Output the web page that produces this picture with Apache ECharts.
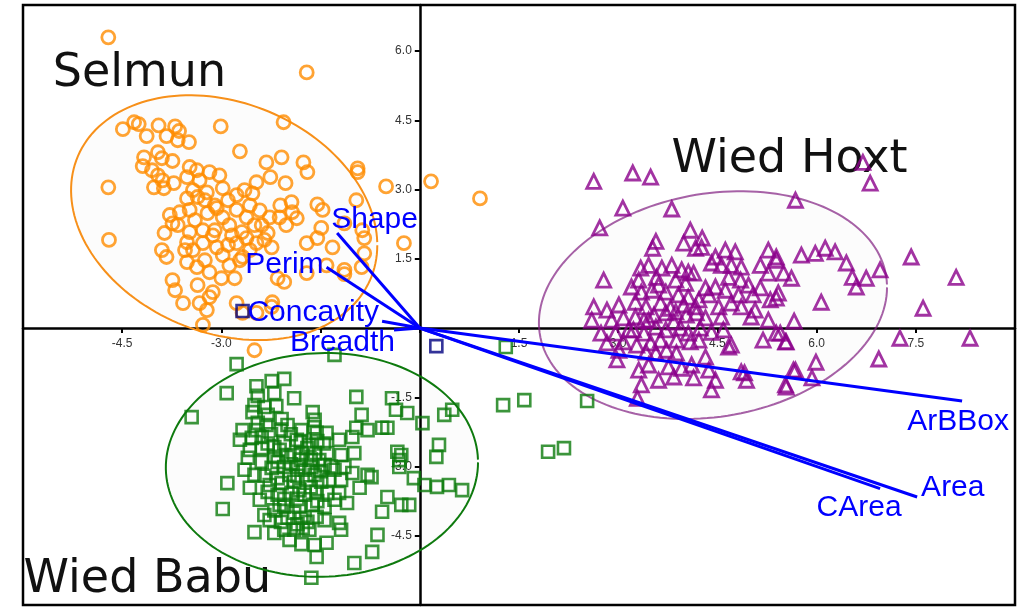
<!DOCTYPE html>
<html><head><meta charset="utf-8">
<script src="https://cdn.jsdelivr.net/npm/echarts@6/dist/echarts.min.js"></script>
<style>html,body{margin:0;padding:0;background:#fff}#c{width:1017px;height:607px}</style>
</head><body><div id="c"></div>
<script>
// ---- data (PC1, PC2 scores) ----
const selmun = [[-4.71,6.30],[-1.71,5.54],[-4.49,4.31],[-4.32,4.46],[-4.25,4.42],[-4.13,4.16],[-3.95,4.39],[-3.83,4.16],[-3.70,4.37],[-3.64,4.27],[-3.66,4.07],[-3.49,4.03],[-3.01,4.37],[-2.72,3.83],[-3.96,3.81],[-4.17,3.70],[-4.19,3.51],[-4.05,3.42],[-3.90,3.68],[-3.74,3.62],[-3.96,3.31],[-3.89,3.20],[-4.02,3.05],[-3.87,3.03],[-3.72,3.14],[-4.71,3.05],[-3.48,3.49],[-3.37,3.42],[-3.52,3.27],[-3.33,3.20],[-3.18,3.38],[-3.03,3.31],[-2.47,3.16],[-3.43,2.99],[-3.52,2.81],[-3.36,2.84],[-3.22,2.94],[-2.98,3.03],[-2.77,2.88],[-2.65,2.99],[-2.53,2.92],[-3.78,2.45],[-3.74,2.27],[-3.63,2.51],[-3.48,2.56],[-3.40,2.34],[-3.21,2.49],[-3.07,2.60],[-2.98,2.40],[-2.77,2.56],[-2.62,2.40],[-3.86,2.06],[-3.66,2.23],[-3.28,2.12],[-3.10,2.12],[-2.88,2.23],[-2.69,2.08],[-2.50,2.23],[-4.70,1.91],[-3.90,1.69],[-3.83,1.54],[-3.52,1.86],[-3.43,1.69],[-3.28,1.84],[-3.07,1.75],[-2.98,1.58],[-2.77,1.84],[-2.62,1.95],[-2.47,1.84],[-3.52,1.43],[-3.37,1.32],[-3.18,1.21],[-2.88,1.36],[-2.68,1.54],[-3.00,1.08],[-2.80,1.08],[-3.74,1.04],[-3.70,0.82],[-3.36,0.93],[-3.13,0.78],[-3.18,0.67],[-3.58,0.54],[-3.33,0.54],[-3.22,0.39],[-2.77,0.54],[-2.68,0.33],[-3.28,0.07],[-2.47,0.33],[-2.50,-0.48],
[-2.06,4.46],[-2.32,3.59],[-2.09,3.70],[-2.26,3.27],[-2.03,3.14],[-1.76,3.59],[-1.70,3.38],[-0.94,3.46],[-0.94,3.38],[-0.51,3.07],[0.17,3.18],[0.91,2.81],[-0.96,2.77],[-1.55,2.68],[-1.47,2.56],[-2.11,2.66],[-1.94,2.73],[-1.93,2.51],[-1.86,2.38],[-2.12,2.40],[-2.02,2.23],[-2.27,2.40],[-2.30,2.06],[-2.24,1.75],[-1.49,2.17],[-1.55,1.95],[-0.87,2.12],[-0.84,1.95],[-0.84,1.62],[-0.88,1.32],[-1.14,1.26],[-1.14,1.17],[-1.41,1.36],[-1.71,1.19],[-2.15,1.08],[-2.05,1.00],[-2.23,0.56],[-2.24,0.46],[-0.24,1.84],[-1.14,2.27],[-1.32,1.75],[-1.71,1.84],
[-3.25,2.77],[-3.10,2.66],[-2.90,2.77],[-2.84,2.01],[-2.57,2.66],[-2.42,2.55],[-2.39,2.23],[-2.57,1.69],[-3.25,1.47],[-3.55,1.69],[-2.35,1.91],[-2.72,1.47],[-2.90,1.80],[-3.13,2.01],[-3.48,2.08]];

const wiedHoxt = [[2.63,3.18],[3.22,3.36],[3.49,3.27],[3.07,2.60],[3.81,2.58],[2.72,2.17],[4.09,2.12],[3.99,1.84],[4.27,1.95],[3.57,1.88],[3.52,1.73],[4.17,1.73],[4.26,1.75],[2.78,1.04],[3.34,1.30],[3.46,1.36],[3.66,1.30],[3.81,1.36],[3.58,1.10],[3.96,1.26],[4.06,1.21],[4.14,1.19],[3.87,1.04],[4.02,0.97],[4.47,1.54],[4.62,1.69],[4.77,1.65],[4.41,1.41],[4.56,1.36],[4.71,1.36],[4.86,1.32],[5.15,1.36],[5.27,1.69],[4.67,1.10],[4.85,1.04],[5.27,1.19],[3.20,0.89],[3.35,0.78],[3.51,0.82],[3.72,0.78],[4.32,0.87],[4.47,0.89],[4.62,0.82],[4.97,0.93],[5.15,0.87],[3.91,0.72],[4.06,0.67],[2.63,0.46],[2.83,0.39],[3.01,0.50],[3.26,0.56],[3.42,0.46],[3.64,0.54],[3.79,0.43],[4.17,0.46],[4.52,0.46],[4.71,0.54],[4.86,0.46],[5.07,0.39],[5.30,0.61],[2.60,0.17],[2.90,0.17],[3.08,0.22],[3.26,0.24],[3.39,0.17],[3.54,0.28],[3.72,0.33],[3.87,0.35],[4.03,0.28],[4.18,0.33],[4.32,0.22],[4.56,0.24],[5.01,0.24],[2.74,-0.11],[2.96,-0.11],[3.23,-0.04],[3.39,-0.11],[3.57,0.02],[3.72,-0.04],[3.94,0.00],[4.06,-0.11],[4.24,0.00],[4.41,-0.09],[2.83,-0.32],[3.08,-0.30],[3.28,-0.37],[3.49,-0.32],[3.64,-0.26],[3.88,-0.26],[4.09,-0.30],[4.71,-0.37],[3.42,-0.52],[3.57,-0.54],[3.73,-0.48],[3.88,-0.54],[2.98,-0.69],[3.46,-0.80],[3.76,-0.84],[3.96,-0.87],[4.11,-0.80],[4.32,-0.63],[4.86,-0.95],[3.84,-1.06],[4.14,-1.08],[4.47,-1.13],[4.94,-1.13],[3.35,-1.23],[4.41,-1.34],[3.29,-1.52],[4.91,-0.97],[5.53,-1.23],[5.65,-0.91],[5.99,-0.74],[5.93,-1.08],[6.94,-0.67],[7.26,-0.22],[8.32,-0.22],[4.67,-0.41],[5.39,-0.11],[5.53,-0.30],[5.54,-1.28],[5.68,-0.91],
[6.81,3.14],[6.70,3.59],[5.68,2.77],[5.77,1.58],[5.98,1.62],[6.13,1.73],[6.28,1.65],[6.45,1.41],[6.96,1.26],[6.54,1.10],[6.75,1.08],[6.60,0.89],[7.43,1.54],[8.11,1.10],[6.07,0.56],[7.61,0.43],[5.66,0.15],[5.39,1.54],[5.39,1.47],[5.50,1.19],[5.62,1.08],[5.42,0.76],[5.39,0.65],[5.45,-0.11],[5.54,-0.30],
[3.31,1.04],[3.61,0.93],[4.22,0.61],[4.37,0.72],[3.99,0.50],[3.46,0.17],[3.16,-0.04],[3.84,0.13],[4.22,-0.26],[3.01,-0.48],[3.31,-0.91],[3.61,-1.13],[4.37,-0.91],[4.59,-0.04],[4.82,0.72],[5.04,0.72],[5.27,0.17],[5.19,-0.26]];

const wiedBabu = [[-2.77,-0.78],[-2.92,-1.41],[-2.47,-1.26],[-2.24,-1.15],[-2.05,-1.10],[-2.45,-1.47],[-2.20,-1.41],[-1.90,-1.52],[-2.50,-1.67],[-2.35,-1.71],[-2.17,-1.69],[-3.45,-1.93],[-2.53,-1.82],[-2.30,-1.88],[-2.09,-1.97],[-1.62,-1.82],[-1.59,-1.99],[-2.68,-2.21],[-2.47,-2.21],[-2.32,-2.10],[-2.72,-2.42],[-2.54,-2.38],[-2.39,-2.36],[-1.79,-2.21],[-1.56,-2.27],[-1.41,-2.27],[-2.57,-2.64],[-2.39,-2.60],[-2.20,-2.58],[-2.05,-2.49],[-1.86,-2.42],[-2.60,-2.81],[-2.39,-2.90],[-2.20,-2.79],[-2.00,-2.79],[-1.79,-2.71],[-1.59,-2.71],[-1.40,-2.71],[-2.24,-3.03],[-2.05,-3.01],[-1.85,-3.01],[-1.64,-3.01],[-1.44,-2.97],[-2.91,-3.36],[-2.57,-3.46],[-2.27,-3.40],[-2.09,-3.36],[-1.90,-3.33],[-1.71,-3.29],[-1.49,-3.33],[-2.15,-3.61],[-1.94,-3.57],[-1.74,-3.61],[-1.56,-3.55],[-1.40,-3.57],[-2.98,-3.92],[-2.05,-3.87],[-1.82,-3.87],[-1.62,-3.83],[-1.44,-3.87],[-2.00,-4.11],[-1.79,-4.11],[-1.56,-4.09],[-2.50,-4.42],[-2.20,-4.44],[-2.05,-4.37],[-1.90,-4.37],[-1.77,-4.33],[-1.79,-4.68],[-1.59,-4.70],[-1.41,-4.65],[-1.56,-4.96],[-1.64,-5.41],
[-0.96,-1.49],[-0.88,-1.88],[-0.79,-2.21],[-0.96,-2.16],[-1.02,-2.36],[-1.22,-2.42],[-0.57,-2.16],[-0.49,-2.16],[-0.36,-1.77],[-0.19,-1.84],[-0.42,-1.52],[0.04,-2.06],[0.37,-1.88],[0.49,-1.77],[0.29,-2.53],[0.25,-2.79],[-0.34,-2.68],[-0.31,-2.86],[-0.31,-3.01],[-0.28,-2.75],[-0.09,-3.25],[0.07,-3.40],[0.26,-3.44],[0.44,-3.40],[0.64,-3.51],[-1.19,-2.75],[-0.99,-2.71],[-1.14,-3.01],[-1.02,-3.14],[-0.79,-3.18],[-0.73,-3.23],[-1.19,-3.29],[-0.91,-3.46],[-1.22,-3.57],[-1.10,-3.79],[-0.49,-3.66],[-0.57,-3.98],[-0.28,-3.83],[-0.16,-3.83],[-1.22,-4.22],[-1.19,-4.37],[-0.64,-4.48],[-0.72,-4.85],[-0.99,-5.09],
[1.30,-0.41],[1.26,-1.67],[1.58,-1.56],[2.53,-1.58],[1.94,-2.68],[2.18,-2.60],[-1.29,-0.58],
[-2.12,-2.64],[-1.90,-2.75],[-1.67,-2.53],[-1.52,-2.86],[-1.29,-3.07],[-1.97,-3.18],[-1.74,-3.07],[-1.59,-3.18],[-2.12,-3.83],[-2.42,-3.72],[-2.35,-4.05],[-1.82,-3.51],[-1.37,-3.29],[-1.29,-3.72],[-2.27,-4.16],[-1.67,-4.37],[-1.44,-4.16],[-1.97,-4.59],[-2.65,-3.07],[-2.50,-3.18],
[-2.25,-2.30],[-2.10,-2.20],[-1.95,-2.30],[-1.80,-2.45],[-2.30,-2.50],[-1.70,-2.60],[-1.55,-2.45],[-2.15,-2.90],[-1.95,-2.95],[-1.80,-2.85],[-1.65,-2.85],[-2.35,-3.20],[-2.15,-3.25],[-1.85,-3.20],[-1.65,-3.45],[-1.50,-3.10],[-2.30,-3.55],[-2.05,-3.70],[-1.85,-3.70],[-1.55,-3.75],[-2.20,-3.95],[-1.90,-4.00],[-1.70,-4.20],[-2.10,-4.20],[-1.85,-4.25],[-1.45,-2.50],[-1.35,-3.00],[-2.45,-2.05],[-2.00,-2.10],[-1.60,-2.15]];

const otherGroup = [[0.25,-0.39],[-2.68,0.37]];

const groupNames = ['Selmun', 'Wied Hoxt', 'Wied Babu'];
const groupLabelX = [-4.24, 5.59, -4.12];
const groupLabelY = [5.50, 3.64, -5.45];

const loadingNames = ['Shape', 'Perim', 'Concavity', 'Breadth', 'ArBBox', 'Area', 'CArea'];
const loadingX = [-1.25, -1.41, -0.57, -0.39, 8.20, 7.52, 6.96];
const loadingY = [2.06, 1.32, 0.15, -0.04, -1.58, -3.66, -3.48];

// tick labels shown on the axes drawn through the origin
const xTickLabels = [-4.5, -3.0, 1.5, 3.0, 4.5, 6.0, 7.5];
const yTickLabels = [-4.5, -3.0, -1.5, 1.5, 3.0, 4.5, 6.0];

// group ellipses: centre and covariance (data units)
const ellipseCX = [-2.958, 4.433, -1.480];
const ellipseCY = [2.392, 0.498, -2.965];
const ellipseSxx = [5.360, 6.927, 5.571];
const ellipseSxy = [-1.379, 1.012, 0.131];
const ellipseSyy = [7.031, 6.089, 5.877];

const xMin = -6, xMax = 9, yMin = -6, yMax = 7, tickStep = 1.5;

// ---- styles ----
const groupColors = ['#FF8C00', '#8B008B', '#0B7A0B'];
const ellipseColors = ['#F7901A', 'rgba(128,30,128,0.7)', '#0E7A0E'];
const loadingLabelStyle = [
  {align:'left', dx:-6, dy:-13},
  {align:'right', dx:-3, dy:-2},
  {align:'right', dx:-3, dy:-8},
  {align:'right', dx:1, dy:13},
  {align:'center', dx:-4, dy:21},
  {align:'left', dx:4, dy:-9},
  {align:'center', dx:-21, dy:19}
];
const tickFont = {fill:'#333', fontSize:12, fontFamily:'Liberation Sans, Arial, sans-serif'};

const chart = echarts.init(document.getElementById('c'), null, {renderer:'canvas'});

function hollow(color, w){ return {color:'rgba(0,0,0,0)', borderColor:color, borderWidth:w}; }

const axisCommon = {
  axisLine:{onZero:true, lineStyle:{color:'#000', width:2.5}},
  axisTick:{show:true, length:5, lineStyle:{color:'#000', width:2}},
  axisLabel:{show:false},
  splitLine:{show:false}
};

const option = {
  animation:false,
  backgroundColor:'#ffffff',
  grid:{left:23, right:2, top:5, bottom:2, containLabel:false, outerBoundsMode:'none',
    show:true, borderColor:'#000', borderWidth:2.5, backgroundColor:'#fff'},
  xAxis:Object.assign({type:'value', min:xMin, max:xMax, interval:tickStep}, axisCommon),
  yAxis:Object.assign({type:'value', min:yMin, max:yMax, interval:tickStep}, axisCommon),
  series:[
    // tick labels
    {type:'custom', z:0, silent:true,
      data: xTickLabels.map(v=>[v, 0]),
      renderItem:(params, api)=>{
        const p = api.coord([api.value(0), 0]);
        return {type:'text', x:p[0], y:p[1]+16, style:Object.assign({text:api.value(0).toFixed(1), align:'center', verticalAlign:'middle'}, tickFont)};
      }},
    {type:'custom', z:0, silent:true,
      data: yTickLabels.map(v=>[0, v]),
      renderItem:(params, api)=>{
        const p = api.coord([0, api.value(1)]);
        return {type:'text', x:p[0]-8, y:p[1], style:Object.assign({text:api.value(1).toFixed(1), align:'right', verticalAlign:'middle'}, tickFont)};
      }},
    // group names
    {type:'custom', z:1, silent:true,
      data: groupNames.map((n,i)=>[groupLabelX[i], groupLabelY[i], i]),
      renderItem:(params, api)=>{
        const i = api.value(2);
        const p = api.coord([api.value(0), api.value(1)]);
        return {type:'text', x:p[0], y:p[1], style:{text:groupNames[i], fill:'#111', fontSize:46,
          fontFamily:'DejaVu Sans, sans-serif', align:'center', verticalAlign:'middle'}};
      }},
    // ellipses
    {type:'custom', z:1, silent:true,
      data: ellipseCX.map((cx,i)=>[cx, ellipseCY[i], i]),
      renderItem:(params, api)=>{
        const i = api.value(2);
        const a = Math.sqrt(ellipseSxx[i]);
        const b = ellipseSxy[i]/a;
        const d = Math.sqrt(ellipseSyy[i] - b*b);
        const pts = [];
        const N = 160;
        for (let k=0; k<=N; k++){
          const t = 0.025 + (2*Math.PI - 0.025) * k / N;
          pts.push(api.coord([ellipseCX[i] + a*Math.cos(t), ellipseCY[i] + b*Math.cos(t) + d*Math.sin(t)]));
        }
        return {type:'group', children:[
          {type:'polygon', shape:{points:pts}, style:{fill:'rgba(0,0,0,0.012)', stroke:null}},
          {type:'polyline', shape:{points:pts}, style:{fill:null, stroke:ellipseColors[i], lineWidth:2}}
        ]};
      }},
    {type:'scatter', name:'Selmun', z:2, symbol:'circle', symbolSize:13, data:selmun, itemStyle:hollow(groupColors[0], 2.8)},
    {type:'scatter', name:'Wied Hoxt', z:2, symbol:'triangle', symbolSize:14, data:wiedHoxt, itemStyle:hollow(groupColors[1], 2.8)},
    {type:'scatter', name:'Wied Babu', z:2, symbol:'rect', symbolSize:12, data:wiedBabu, itemStyle:hollow(groupColors[2], 2.6)},
    {type:'scatter', name:'Other', z:2, symbol:'rect', symbolSize:12, data:otherGroup, itemStyle:hollow('#000080', 2.6)},
    // loading vectors
    {type:'custom', z:3, silent:true,
      data: loadingX.map((x,i)=>[x, loadingY[i], i]),
      renderItem:(params, api)=>{
        const i = api.value(2);
        const o = api.coord([0,0]);
        const e = api.coord([api.value(0), api.value(1)]);
        const s = loadingLabelStyle[i];
        return {type:'group', children:[
          {type:'line', shape:{x1:o[0], y1:o[1], x2:e[0], y2:e[1]}, style:{stroke:'#0000FF', lineWidth:3}},
          {type:'text', x:e[0]+s.dx, y:e[1]+s.dy, style:{text:loadingNames[i], fill:'#0000FF', fontSize:30,
            fontFamily:'Liberation Sans, Arial, sans-serif', align:s.align, verticalAlign:'middle'}}
        ]};
      }}
  ]
};
chart.setOption(option);
</script>
</body></html>
